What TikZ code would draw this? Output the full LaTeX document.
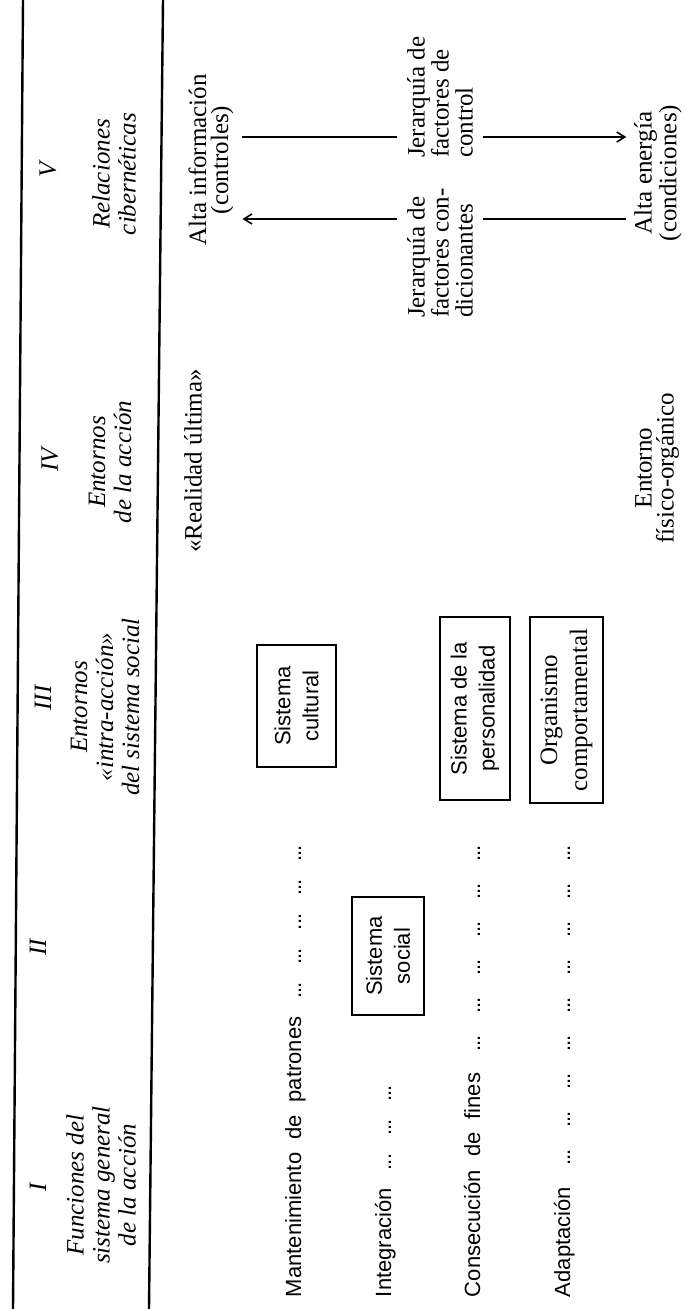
\documentclass[tikz,border=0pt]{standalone}
\usepackage{fontspec}
\setmainfont{Liberation Serif}
\newfontfamily\sansf{Liberation Sans}
\usetikzlibrary{arrows.meta}
\newcommand\grp{\mbox{.\kern-0.5pt.\kern-0.5pt.}}
\newcommand\ws{\hspace{6.5pt}}
\begin{document}
\begin{tikzpicture}[x=0.5pt,y=-0.5pt,
  every node/.style={rotate=90,inner sep=0pt,outer sep=0pt},
  head/.style={font=\fontsize{12.5}{13}\selectfont\itshape,align=center},
  num/.style={font=\fontsize{12.5}{13}\selectfont\itshape},
  serif/.style={font=\fontsize{12.5}{12}\selectfont,align=center},
  sans/.style={font=\sansf\fontsize{11}{14}\selectfont,align=center},
  row/.style={font=\sansf\fontsize{11}{13}\selectfont,anchor=base west},
  boxr/.style={draw,line width=1pt},
  rule/.style={line width=1.2pt},
  conn/.style={line width=0.8pt},
  tip/.style={-{Straight Barb[length=4pt,width=5pt]}}
]
\useasboundingbox (0,0) rectangle (685,1309);
% rules
\coordinate (r1a) at (23,0);
\coordinate (r1b) at (13,1309);
\coordinate (r2a) at (163,0);
\coordinate (r2b) at (149,1309);
\draw[rule] (r1a) -- (r1b);
\draw[rule] (r2a) -- (r2b);
% headers
\node[num] (n1) at (38,1187) {I};
\node[head] (h1) at (101,1185) {Funciones del\\sistema general\\de la acción};
\node[num] (n2) at (38,947) {II};
\node[num] (n3) at (43,698) {III};
\node[head] (h3) at (105,707) {Entornos\\«intra-acción»\\del sistema social};
\node[num] (n4) at (50,460) {IV};
\node[head] (h4) at (110,462) {Entornos\\de la acción};
\node[num] (n5) at (48,170) {V};
\node[head] (h5) at (114,174) {Relaciones\\cibernéticas};
% rows (functions)
\node[row] (mant) at (301,1297) {\hbox to 226pt{Mantenimiento\ws de\ws patrones\hfill\grp\hfill\grp\hfill\grp\hfill\grp\hfill\grp}};
\node[row] (integ) at (391,1297) {\hbox to 106pt{Integración\hfill\grp\hfill\grp\hfill\grp}};
\node[row] (consec) at (480,1297) {\hbox to 226pt{Consecución\ws de\ws fines\hfill\grp\hfill\grp\hfill\grp\hfill\grp\hfill\grp\hfill\grp}};
\node[row] (adapt) at (570,1297) {\hbox to 226pt{Adaptación\hfill\grp\hfill\grp\hfill\grp\hfill\grp\hfill\grp\hfill\grp\hfill\grp\hfill\grp\hfill\grp}};
% boxes
\node[boxr,sans,minimum width=59pt,minimum height=36pt] (social) at (388,956) {Sistema\\social};
\node[boxr,sans,minimum width=61pt,minimum height=39.5pt] (cultural) at (296.5,706) {Sistema\\cultural};
\node[boxr,sans,minimum width=91.5pt,minimum height=35pt] (person) at (475,708.5) {Sistema de la\\personalidad};
\node[boxr,serif,font=\fontsize{12.5}{15}\selectfont,minimum width=93pt,minimum height=36.5pt] (organ) at (566.5,710) {Organismo\\comportamental};
% column IV
\node[serif] (real) at (193,461) {«Realidad última»};
\node[serif,font=\fontsize{12.5}{11}\selectfont] (fis) at (657,468) {Entorno\\físico-orgánico};
% column V
\node[serif,font=\fontsize{12.5}{11}\selectfont] (ainfo) at (211,160) {Alta información\\(controles)};
\node[serif,font=\fontsize{12.5}{11}\selectfont] (aener) at (658,173) {Alta energía\\(condiciones)};
\node[serif,align=left,anchor=west] (jcond) at (440,318) {Jerarquía de\\factores con-\\dicionantes};
\node[serif,align=left,anchor=west] (jctrl) at (440,158) {Jerarquía de\\factores de\\control};
\coordinate (pA) at (0,219);
\coordinate (pB) at (0,137);
\draw[conn,tip,shorten <=5pt,shorten >=4.5pt] (jcond.north |- pA) -- (ainfo.south |- pA);
\draw[conn,shorten <=4pt,shorten >=5pt] (aener.north |- pA) -- (jcond.south |- pA);
\draw[conn,shorten <=4.5pt,shorten >=5pt] (ainfo.south |- pB) -- (jctrl.north |- pB);
\draw[conn,tip,shorten <=5pt,shorten >=4pt] (jctrl.south |- pB) -- (aener.north |- pB);
\end{tikzpicture}
\end{document}
